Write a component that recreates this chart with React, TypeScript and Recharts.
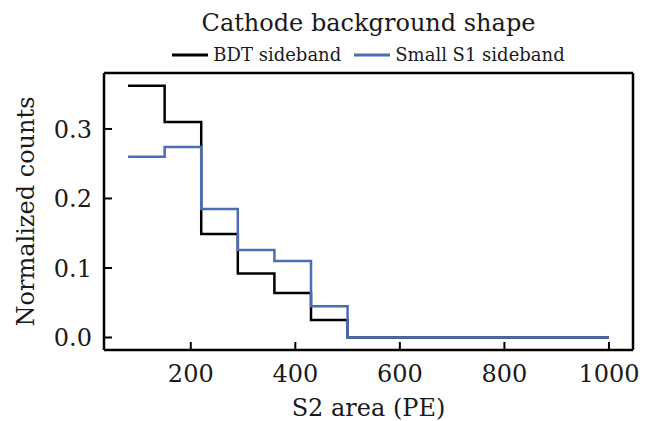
import React from "react";
import { Line, LineChart, XAxis, YAxis } from "recharts";

// bin edges (PE) and normalized counts per bin; last value repeated for the step end
const EDGES = [80, 150, 220, 290, 360, 430, 500, 1000];
const BDT = [0.362, 0.31, 0.149, 0.092, 0.064, 0.025, 0, 0];
const SMALL_S1 = [0.26, 0.274, 0.185, 0.126, 0.11, 0.045, 0, 0];
const X_TICKS = [200, 400, 600, 800, 1000];
const Y_TICKS = [0, 0.1, 0.2, 0.3];

const TITLE = "Cathode background shape";
const X_LABEL = "S2 area (PE)";
const Y_LABEL = "Normalized counts";

const SERIES = [
  { key: "bdt", name: "BDT sideband", color: "#000000" },
  { key: "small", name: "Small S1 sideband", color: "#4c6db3" },
];

const rows = EDGES.map((edge, i) => ({ edge, bdt: BDT[i], small: SMALL_S1[i] }));

const FONT = "'DejaVu Serif', serif";
const INK = "#1a1a1a";
const W = 648;
const H = 421;
const LEFT = 104;
const RIGHT = 633;
const TOP = 73;
const BOTTOM = 350;
const TICK_LEN = 8;
const FRAME = { stroke: "#000", strokeWidth: 2.5 };

function XTick(props: any) {
  const { x, payload } = props;
  return (
    <g>
      <line x1={x} x2={x} y1={BOTTOM} y2={BOTTOM - TICK_LEN} stroke="#000" strokeWidth={2} />
      <text x={x} y={382} textAnchor="middle" fontSize={24} fontFamily={FONT} fill={INK}>
        {payload.value}
      </text>
    </g>
  );
}

function YTick(props: any) {
  const { y, payload } = props;
  return (
    <g>
      <line x1={LEFT} x2={LEFT + TICK_LEN} y1={y} y2={y} stroke="#000" strokeWidth={2} />
      <text x={LEFT - 12} y={y} dy="0.36em" textAnchor="end" fontSize={24} fontFamily={FONT} fill={INK}>
        {Number(payload.value).toFixed(1)}
      </text>
    </g>
  );
}

export default function App() {
  const cx = (LEFT + RIGHT) / 2;
  const cy = (TOP + BOTTOM) / 2;
  return (
    <div style={{ position: "absolute", left: 0, top: 0, width: W, height: H, background: "#fff" }}>
      <LineChart
        width={W}
        height={H}
        data={rows}
        margin={{ top: TOP - 1, right: W - RIGHT - 1, bottom: 31, left: LEFT - 60 }}
        style={{ position: "absolute", left: 0, top: 0 }}
      >
        <XAxis
          type="number"
          dataKey="edge"
          domain={[34, 1046]}
          ticks={X_TICKS}
          tick={<XTick />}
          tickLine={false}
          axisLine={FRAME}
          height={40}
        />
        <XAxis
          xAxisId="top"
          orientation="top"
          type="number"
          dataKey="edge"
          domain={[34, 1046]}
          tick={false}
          tickLine={false}
          axisLine={FRAME}
          height={1}
        />
        <YAxis
          type="number"
          domain={[-0.018, 0.3805]}
          ticks={Y_TICKS}
          tick={<YTick />}
          tickLine={false}
          axisLine={FRAME}
          width={60}
        />
        <YAxis
          yAxisId="right"
          orientation="right"
          domain={[-0.018, 0.3805]}
          tick={false}
          tickLine={false}
          axisLine={FRAME}
          width={1}
        />
        {SERIES.map((s) => (
          <Line
            key={s.key}
            type="stepAfter"
            dataKey={s.key}
            name={s.name}
            stroke={s.color}
            strokeWidth={2.5}
            dot={false}
            activeDot={false}
            isAnimationActive={false}
          />
        ))}
      </LineChart>
      <svg
        width={W}
        height={H}
        style={{ position: "absolute", left: 0, top: 0, pointerEvents: "none" }}
        fontFamily={FONT}
        fill={INK}
      >
        <text x={cx} y={31} textAnchor="middle" fontSize={24}>
          {TITLE}
        </text>
        <text x={cx} y={416} textAnchor="middle" fontSize={24}>
          {X_LABEL}
        </text>
        <text x={34} y={cy} textAnchor="middle" fontSize={24} transform={`rotate(-90 34 ${cy})`}>
          {Y_LABEL}
        </text>
      </svg>
      <div
        style={{
          position: "absolute",
          left: LEFT,
          width: RIGHT - LEFT,
          top: 44,
          display: "flex",
          justifyContent: "center",
          gap: 13,
          fontFamily: FONT,
          fontSize: 18,
          color: INK,
        }}
      >
        {SERIES.map((s) => (
          <span key={s.key} style={{ display: "flex", alignItems: "center" }}>
            <svg width={36} height={4} style={{ marginRight: 5 }}>
              <line x1={0} x2={36} y1={2} y2={2} stroke={s.color} strokeWidth={3} />
            </svg>
            {s.name}
          </span>
        ))}
      </div>
    </div>
  );
}
